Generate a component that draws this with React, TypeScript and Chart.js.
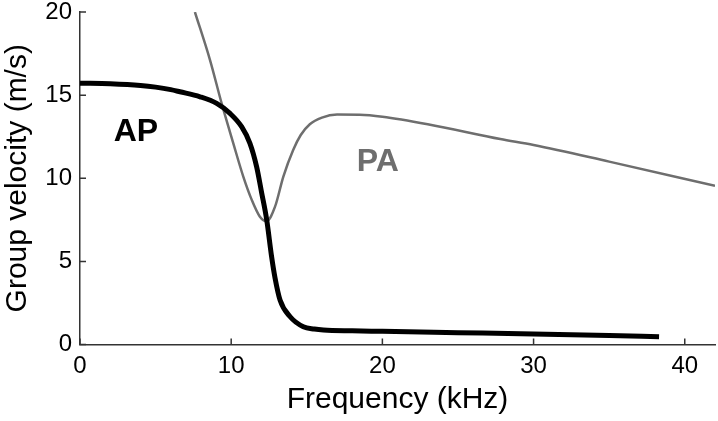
import React, { useEffect, useRef } from "react";
import { Chart, registerables } from "chart.js";

Chart.register(...registerables);

// Frequency (kHz) / group velocity (m/s)
const apFreq = [0, 2, 4, 5, 6, 6.61, 7.94, 9.04, 9.92, 10.69, 11.24, 11.68, 12.02, 12.35, 12.67, 12.9, 13.23, 13.9, 14.77, 15.5, 16.1, 18, 20, 25, 30, 35, 38.3];
const apVel = [15.72, 15.68, 15.58, 15.48, 15.33, 15.2, 14.9, 14.5, 13.9, 13.1, 12.1, 10.7, 9.1, 7.49, 5.3, 4.0, 2.68, 1.67, 1.07, 0.93, 0.87, 0.82, 0.79, 0.71, 0.63, 0.54, 0.47];

const paFreq = [7.6, 8.6, 9.37, 10.14, 10.8, 11.36, 11.9, 12.35, 12.9, 13.45, 14.1, 14.6, 15.2, 16, 17, 18.5, 20, 23, 27.8, 30, 35, 42];
const paVel = [20, 17.11, 14.5, 12.1, 10.1, 8.7, 7.69, 7.42, 8.29, 10.1, 11.7, 12.6, 13.25, 13.65, 13.83, 13.82, 13.7, 13.25, 12.36, 12.0, 11.0, 9.55];

const labels = [
  { text: "AP", x: 3.7, y: 12.78, color: "#000000" },
  { text: "PA", x: 19.7, y: 10.98, color: "#6e6e6e" },
];

const xTitle = "Frequency (kHz)";
const yTitle = "Group velocity (m/s)";
const FONT = "'Liberation Sans', Arial, sans-serif";
const AXIS_COLOR = "#333333";

const toPoints = (xs: number[], ys: number[]) => xs.map((x, i) => ({ x, y: ys[i] }));

const decorPlugin = {
  id: "decor",
  afterDatasetsDraw(chart: any) {
    const { ctx, chartArea, scales } = chart;
    ctx.save();
    ctx.strokeStyle = AXIS_COLOR;
    ctx.lineWidth = 1.5;
    ctx.beginPath();
    scales.x.ticks.forEach((t: any) => {
      const px = scales.x.getPixelForValue(t.value);
      ctx.moveTo(px, chartArea.bottom);
      ctx.lineTo(px, chartArea.bottom - 6);
    });
    scales.y.ticks.forEach((t: any) => {
      const py = scales.y.getPixelForValue(t.value);
      ctx.moveTo(chartArea.left, py);
      ctx.lineTo(chartArea.left + 6, py);
    });
    ctx.stroke();
    ctx.font = `bold 32px ${FONT}`;
    ctx.textAlign = "center";
    ctx.textBaseline = "middle";
    labels.forEach((l) => {
      ctx.fillStyle = l.color;
      ctx.fillText(l.text, scales.x.getPixelForValue(l.x), scales.y.getPixelForValue(l.y));
    });
    ctx.restore();
  },
};

export default function App() {
  const ref = useRef<HTMLCanvasElement | null>(null);
  useEffect(() => {
    if (!ref.current) return;
    const chart = new Chart(ref.current, {
      type: "line",
      data: {
        datasets: [
          {
            label: "AP",
            data: toPoints(apFreq, apVel),
            borderColor: "#000000",
            borderWidth: 5,
            pointRadius: 0,
            cubicInterpolationMode: "monotone",
            fill: false,
          },
          {
            label: "PA",
            data: toPoints(paFreq, paVel),
            borderColor: "#6e6e6e",
            borderWidth: 2.5,
            pointRadius: 0,
            cubicInterpolationMode: "monotone",
            fill: false,
          },
        ],
      },
      options: {
        animation: false,
        responsive: true,
        maintainAspectRatio: false,
        layout: { padding: { top: 12, right: 3, left: 0, bottom: 0 } },
        plugins: { legend: { display: false }, tooltip: { enabled: false } },
        scales: {
          x: {
            type: "linear",
            min: 0,
            max: 42,
            grid: { display: true, drawOnChartArea: false, drawTicks: false },
            border: { display: true, color: AXIS_COLOR, width: 1.5 },
            ticks: {
              stepSize: 10,
              includeBounds: false,
              padding: 10,
              color: "#000",
              maxRotation: 0,
              font: { family: FONT, size: 24, lineHeight: 1 },
            },
            title: {
              display: true,
              text: xTitle,
              color: "#000",
              font: { family: FONT, size: 30, lineHeight: 1.2 },
              padding: { top: 0, bottom: 3 },
            },
            afterFit: (s: any) => {
              s.height = 76.5;
              s.paddingLeft = 0;
              s.paddingRight = 0;
            },
          },
          y: {
            type: "linear",
            min: 0,
            max: 20,
            grid: { display: true, drawOnChartArea: false, drawTicks: false },
            border: { display: true, color: AXIS_COLOR, width: 1.5 },
            ticks: {
              stepSize: 5,
              padding: 8,
              color: "#000",
              font: { family: FONT, size: 24, lineHeight: 1 },
            },
            title: {
              display: true,
              text: yTitle,
              color: "#000",
              font: { family: FONT, size: 30, lineHeight: 1.2 },
              padding: { top: 0, bottom: 0 },
            },
            afterFit: (s: any) => {
              s.width = 80;
              s.paddingTop = 0;
              s.paddingBottom = 0;
            },
          },
        },
      },
      plugins: [decorPlugin],
    });
    return () => chart.destroy();
  }, []);
  return (
    <div style={{ position: "fixed", left: 0, top: 0, width: 718, height: 421, background: "#fff" }}>
      <canvas ref={ref} />
    </div>
  );
}
